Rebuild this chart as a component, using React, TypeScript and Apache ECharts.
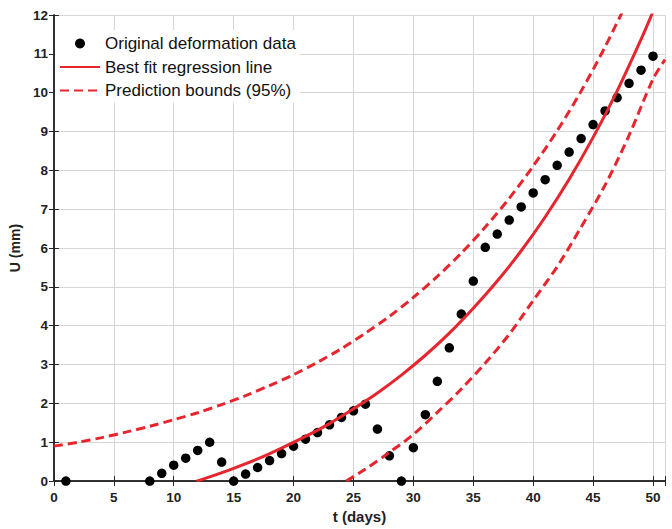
import React, { useEffect, useRef } from "react";
import * as echarts from "echarts";

// Observed deformation data (t in days, U in mm)
const obsT = [1, 8, 9, 10, 11, 12, 13, 14, 15, 16, 17, 18, 19, 20, 21, 22, 23, 24, 25, 26, 27, 28, 29, 30, 31, 32, 33, 34, 35, 36, 37, 38, 39, 40, 41, 42, 43, 44, 45, 46, 47, 48, 49, 50];
const obsU = [0, 0, 0.2, 0.41, 0.59, 0.79, 1.0, 0.49, 0, 0.18, 0.35, 0.53, 0.71, 0.9, 1.08, 1.25, 1.45, 1.64, 1.81, 1.98, 1.34, 0.65, 0, 0.86, 1.71, 2.57, 3.43, 4.3, 5.15, 6.02, 6.36, 6.72, 7.06, 7.42, 7.76, 8.13, 8.47, 8.82, 9.18, 9.53, 9.87, 10.24, 10.58, 10.94];

// Best fit regression line
const fitT = [11.9, 13, 15, 17, 19, 21, 23, 25, 27, 29, 31, 33, 35, 37, 39, 41, 43, 45, 47, 49, 50];
const fitU = [0, 0.11, 0.33, 0.57, 0.85, 1.15, 1.48, 1.86, 2.27, 2.73, 3.24, 3.81, 4.45, 5.15, 5.93, 6.8, 7.77, 8.85, 10.04, 11.37, 12.09];

// Prediction bounds (95%)
const upperT = [0, 2, 4, 6, 8, 10, 12, 14, 16, 18, 20, 22, 24, 26, 28, 30, 32, 34, 36, 38, 40, 42, 44, 46, 48];
const upperU = [0.9, 1.0, 1.12, 1.26, 1.41, 1.58, 1.76, 1.97, 2.2, 2.46, 2.74, 3.06, 3.41, 3.81, 4.24, 4.73, 5.27, 5.87, 6.54, 7.28, 8.11, 9.02, 10.04, 11.18, 12.44];
const lowerT = [24.4, 26, 28, 30, 32, 34, 36, 38, 40, 42, 44, 46, 48, 50, 51];
const lowerU = [0, 0.31, 0.74, 1.2, 1.77, 2.37, 3.04, 3.78, 4.65, 5.52, 6.54, 7.62, 8.9, 10.35, 10.85];

const legendNames = ["Original deformation data", "Best fit regression line", "Prediction bounds (95%)"];
const xTitle = "t (days)";
const yTitle = "U (mm)";

const zip = (a: number[], b: number[]) => a.map((v, i) => [v, b[i]]);

export default function App() {
  const ref = useRef<HTMLDivElement>(null);
  useEffect(() => {
    if (!ref.current) return;
    const chart = echarts.init(ref.current, undefined, { renderer: "svg" });
    const red = "#e6262e";
    const axisColor = "#262626";
    const font = "Liberation Sans";
    const frameAxis = {
      axisLine: { show: true, lineStyle: { color: axisColor, width: 1.5 } },
      axisTick: { show: true, inside: true, length: 5, lineStyle: { color: axisColor, width: 1 } },
    };
    chart.setOption({
      animation: false,
      backgroundColor: "#ffffff",
      grid: { left: 53, right: 7, top: 15, bottom: 42 },
      legend: {
        orient: "vertical",
        left: 55,
        top: 30,
        padding: [3.5, 4, 2, 4],
        backgroundColor: "#ffffff",
        itemWidth: 40,
        itemHeight: 10,
        itemGap: 3.5,
        data: [
          { name: legendNames[0], itemStyle: { color: "#000000", opacity: 1 } },
          { name: legendNames[1], itemStyle: { opacity: 0 } },
          { name: legendNames[2], itemStyle: { opacity: 0 } },
        ],
        textStyle: { fontFamily: font, fontSize: 17, color: "#111", lineHeight: 20 },
      },
      xAxis: [
        {
          type: "value",
          min: 0,
          max: 51,
          interval: 5,
          name: xTitle,
          nameLocation: "middle",
          nameGap: 25,
          nameTextStyle: { fontFamily: font, fontSize: 15, fontWeight: "bold", color: "#222" },
          ...frameAxis,
          axisLabel: {
            margin: 9,
            fontFamily: font,
            fontSize: 13.5,
            fontWeight: "bold",
            color: "#222",
            formatter: (v: number) => (v % 5 === 0 ? String(v) : ""),
          },
          splitLine: { show: true, lineStyle: { color: "#d6d6d6", width: 1 } },
        },
        {
          type: "value",
          position: "top",
          min: 0,
          max: 51,
          interval: 5,
          ...frameAxis,
          axisLabel: { show: false },
          splitLine: { show: false },
        },
      ],
      yAxis: [
        {
          type: "value",
          min: 0,
          max: 12,
          interval: 1,
          name: yTitle,
          nameLocation: "middle",
          nameGap: 30,
          nameTextStyle: { fontFamily: font, fontSize: 14, fontWeight: "bold", color: "#222" },
          ...frameAxis,
          axisLabel: { margin: 6, fontFamily: font, fontSize: 13.5, fontWeight: "bold", color: "#222" },
          splitLine: { show: true, lineStyle: { color: "#d6d6d6", width: 1 } },
        },
        {
          type: "value",
          position: "right",
          min: 0,
          max: 12,
          interval: 1,
          ...frameAxis,
          axisLabel: { show: false },
          splitLine: { show: false },
        },
      ],
      series: [
        {
          name: legendNames[0],
          type: "scatter",
          data: zip(obsT, obsU),
          symbol: "circle",
          symbolSize: 9.5,
          itemStyle: { color: "#000000", opacity: 1 },
          clip: false,
          z: 3,
        },
        {
          name: legendNames[1],
          type: "line",
          data: zip(fitT, fitU),
          showSymbol: false,
          symbol: "none",
          smooth: 0.3,
          lineStyle: { color: red, width: 3 },
          itemStyle: { color: red },
          z: 4,
        },
        {
          name: legendNames[2],
          type: "line",
          data: zip(upperT, upperU),
          showSymbol: false,
          symbol: "none",
          smooth: 0.3,
          lineStyle: { color: red, width: 3, type: [9, 5] },
          itemStyle: { color: red },
          z: 4,
        },
        {
          name: legendNames[2],
          type: "line",
          data: zip(lowerT, lowerU),
          showSymbol: false,
          symbol: "none",
          smooth: 0.3,
          lineStyle: { color: red, width: 3, type: [9, 5] },
          itemStyle: { color: red },
          z: 4,
        },
      ],
    });
    return () => chart.dispose();
  }, []);
  return (
    <div
      ref={ref}
      style={{ position: "fixed", left: 0, top: 0, width: 672, height: 529, background: "#fff" }}
    />
  );
}
